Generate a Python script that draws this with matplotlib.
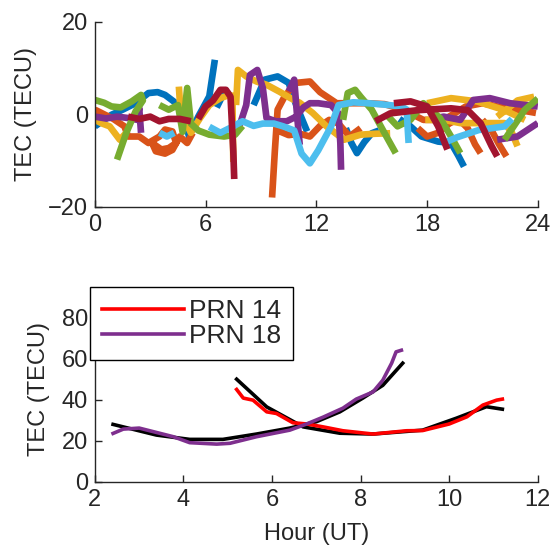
import numpy as np
import matplotlib.pyplot as plt

nan = np.nan

# ---- top panel: TEC residuals per satellite track (hour, TECU), NaN breaks tracks
blue_hr = [0, 0.5, 0.9, 1.5, 2.2, 2.9, 3.4, 3.8, 4.4, 4.9, 5.1, 5.6, 6.2, 6.5, nan,
           6.6, 6.9, 7.2, 7.6, nan,
           8.6, 9.2, 9.9, 10.5, 10.9, 11.5, nan,
           13.6, 13.9, 14.2, 14.6, 15.0, 15.4, nan,
           16.5, 17.1, 17.7, 18.6, 19.3, 19.7, 20.0]
blue_tec = [-2.6, -1.2, -0.1, 1.0, 2.4, 4.6, 4.8, 4.2, 2.4, -1.6, -4.8, -0.5, 3.9, 11.8, nan,
            1.5, 3.9, 4.6, 2.5, nan,
            2.0, 7.5, 8.2, 6.8, 2.1, -3.7, nan,
            -3.0, -6.2, -8.4, -6.0, -4.1, -3.5, nan,
            -1.0, -2.6, -4.8, -5.9, -6.2, -9.0, -11.3]

orange_hr = [0, 0.5, 1.0, 1.6, 1.8, 2.4, 2.9, 3.5, 3.8, 4.2, 4.4, 4.0, 3.6, 3.1, 3.3, 3.8, 4.2, 4.6, 5.0, 5.3, nan,
             9.6, 9.75, 9.9, 10.3, 10.9, 11.65, 12.2, 13.1, 13.9, 14.8, 15.7, 16.7, 17.8, 18.9,
             20.1, 21.0, 21.8, 22.9, 23.9, nan,
             9.9, 10.5, 11.1, 11.65, 12.2, 12.7, 13.2, 13.8, 14.4, nan,
             17.5, 18.0, 18.6, 19.2, 19.7, 20.2, 20.6, 20.9, nan,
             21.0, 21.5, 21.9, 22.3]
orange_tec = [1.0, 0.0, -1.0, -2.6, -4.8, -4.8, -6.2, -4.8, -3.3, -3.7, -6.2, -7.3, -7.6, -6.2, -8.0, -8.5, -7.7, -4.8, -6.2, -4.0, nan,
              -18.0, -8.0, 1.0, 4.0, 6.8, 7.1, 4.8, 2.4, 2.4, 2.4, 2.2, 1.0, -1.2, -1.2,
              1.7, 2.4, 1.7, 1.0, 0.3, nan,
              -3.5, -4.5, -4.2, -4.8, -2.5, -1.2, -2.0, -4.8, -3.0, nan,
              -3.0, -4.8, -4.0, -2.0, -1.0, -3.0, -6.5, -8.4, nan,
              -1.2, -3.5, -6.5, -9.1]

yellow_hr = [0, 0.4, 0.8, 1.35, 1.7, nan,
             4.55, 4.6, 4.9, 5.2, 5.7, 6.2, 6.8, 7.3, 7.45, 7.5, nan,
             7.65, 7.75, 8.2, 8.76, 9.3, 10.0, 10.6, 11.1, 11.8, 12.55, 13.5, 14.4, 15.2, 16.0, nan,
             18.0, 19.3, 20.7, 22.2, 23.3, nan,
             17.9, 18.9, 19.8, 21.0, 22.2, 22.6, 22.9, nan,
             21.8, 22.3, 22.9, 23.8]
yellow_tec = [-1.2, -2.0, -2.6, -5.5, -4.0, nan,
              6.0, 3.0, -1.5, -4.0, -0.8, 2.0, 3.5, 4.2, 4.0, -10.3, nan,
              2.0, 9.6, 8.2, 7.1, 6.4, 4.9, 3.5, 2.5, 0.3, -2.6, -5.5, -4.4, -4.2, -4.1, nan,
              2.4, 3.5, 2.8, 0.9, -1.2, nan,
              -1.2, -1.2, -1.9, -1.9, -1.9, -4.0, -6.9, nan,
              -0.5, 1.0, 3.0, 3.8]

purple_hr = [0, 0.6, 1.2, 1.8, 2.3, 2.4, 2.5, nan,
             7.85, 8.2, 8.4, 8.8, 9.1, 9.3, 9.8, 10.4, 10.9, 11.3, 11.65, 12.1, 12.8, 13.2, 13.3, 13.34, nan,
             10.5, 10.8, 10.95, 11.1, nan,
             18.5, 18.9, 19.8, 20.5, 21.4, 22.5, 24.0, nan,
             21.8, 22.9, 24.0]
purple_tec = [-0.5, -0.9, -0.5, -0.8, -1.2, 1.4, -4.0, nan,
              -2.3, 2.0, 8.5, 9.6, 5.7, -0.8, -1.5, -1.5, -0.5, 1.5, 2.4, 2.4, 2.0, 0.2, -6.2, -12.0, nan,
              5.0, 7.5, 0.0, -6.6, nan,
              -0.8, -0.5, -1.2, 3.1, 3.5, 2.4, 1.7, nan,
              -5.5, -4.8, -1.9]

green_hr = [0, 0.5, 0.9, 1.4, 2.0, 2.5, 2.6, 2.2, 1.7, 1.2, nan,
            3.5, 4.0, 4.5, 4.75, 5.0, 5.2, 5.6, 6.2, 7.0, 7.6, 8.0, nan,
            13.45, 13.7, 14.1, 14.4, 15.0, 15.7, 16.3, nan,
            15.9, 16.4, 17.1, 17.8, 18.7, 19.3, 19.8, nan,
            22.2, 23.3, 24.0]
green_tec = [3.1, 2.5, 1.7, 1.5, 2.8, 4.2, 3.0, 0.6, -4.0, -9.8, nan,
             2.0, 1.0, 2.0, -3.8, 5.7, -2.0, -3.5, -4.4, -4.8, -4.4, -2.5, nan,
             -1.2, 4.6, 5.3, 3.8, 1.0, -4.1, -8.4, nan,
             -0.5, -2.6, -1.2, 2.4, -0.8, -4.8, -8.4, nan,
             -5.5, 1.0, 3.4]

cyan_hr = [3.5, 3.9, 4.3, nan,
           6.2, 6.8, 7.3, 8.0, 8.6, 9.1, 9.7, 10.2, 10.8, 11.2, 11.65, 12.1, 12.8, 13.2, 14.0, 14.8,
           15.7, 16.6, 16.9, 16.95, 17.0, nan,
           18.9, 19.6, 20.8, 21.5, 22.2, 22.6]
cyan_tec = [-4.0, -4.8, -4.0, nan,
            -2.7, -4.0, -3.0, -1.5, -2.5, -2.0, -2.0, -2.6, -3.5, -8.5, -10.6, -7.8, -2.6, 2.0, 2.6, 2.4,
            2.1, 1.7, 1.0, -3.0, -6.2, nan,
            -6.2, -5.0, -3.4, -3.0, -2.6, -1.0]

crimson_hr = [1.8, 2.4, 3.0, 3.5, 4.0, 4.6, 5.2, nan,
              5.6, 6.0, 6.4, 6.8, 7.1, 7.35, 7.5, 7.55, nan,
              15.2, 16.0, 17.5, 19.3, 20.2, 20.9, 21.5, 21.8, nan,
              16.2, 17.1, 18.0, 18.6, 19.1]
crimson_tec = [-0.5, -1.0, -0.5, -1.5, -1.0, -1.0, -1.5, nan,
               -1.0, 1.7, 3.0, 5.3, 5.3, 3.8, -8.0, -14.0, nan,
               -1.5, 0.2, 0.9, 1.3, 0.9, -1.9, -6.9, -9.1, nan,
               2.4, 2.8, 1.7, -2.6, -7.6]

# ---- bottom panel: observed vs model TEC
prn14_hr = [5.2, 5.35, 5.57, 5.88, 6.1, 6.47, 6.78, 7.15, 7.6, 8.28, 9.04, 9.4, 10.0, 10.4, 10.76, 11.07, 11.2]
prn14_tec = [45.0, 40.8, 39.8, 34.1, 33.3, 28.8, 28.2, 26.8, 24.9, 23.3, 24.9, 25.0, 28.2, 31.7, 37.4, 39.8, 40.3]
model14_hr = [5.2, 5.88, 6.7, 7.53, 8.28, 9.4, 10.16, 10.84, 11.2]
model14_tec = [50.0, 36.5, 26.8, 23.7, 23.3, 25.2, 31.0, 36.6, 35.4]

prn18_hr = [2.41, 2.64, 3.0, 3.77, 4.14, 4.75, 5.05, 5.65, 6.4, 6.78, 7.15, 7.6, 7.9, 8.28, 8.5, 8.7, 8.8, 8.92]
prn18_tec = [23.6, 25.7, 26.2, 22.0, 19.1, 18.4, 18.8, 22.0, 25.2, 28.2, 31.5, 35.9, 40.3, 43.8, 49.5, 57.8, 63.3, 64.1]
model18_hr = [2.41, 3.39, 4.14, 4.89, 5.65, 6.4, 7.0, 7.53, 8.05, 8.5, 8.95]
model18_tec = [28.0, 22.8, 20.7, 20.7, 23.3, 26.2, 29.3, 34.1, 40.8, 47.0, 57.8]

plt.rcParams['font.family'] = ['Liberation Sans', 'DejaVu Sans']
plt.rcParams['font.size'] = 17
ink = '#262626'

fig = plt.figure(figsize=(5.55, 5.47), dpi=100)
ax1 = fig.add_axes([0.171, 0.622, 0.798, 0.338])
ax2 = fig.add_axes([0.171, 0.119, 0.798, 0.338])

tracks = [
    (blue_hr, blue_tec, '#0072BD'),
    (orange_hr, orange_tec, '#D95319'),
    (yellow_hr, yellow_tec, '#EDB120'),
    (purple_hr, purple_tec, '#7E2F8E'),
    (green_hr, green_tec, '#77AC30'),
    (cyan_hr, cyan_tec, '#4DBEEE'),
    (crimson_hr, crimson_tec, '#A2142F'),
]
for hr, tec, c in tracks:
    ax1.plot(hr, tec, color=c, lw=4.8, solid_capstyle='butt')
ax1.set_xlim(0, 24)
ax1.set_ylim(-20, 20)
ax1.set_xticks([0, 6, 12, 18, 24])
ax1.set_yticks([-20, 0, 20])
ax1.set_ylabel('TEC (TECU)', color=ink, labelpad=8)

ax2.plot(model14_hr, model14_tec, color='k', lw=2.6)
ax2.plot(model18_hr, model18_tec, color='k', lw=2.6)
l14, = ax2.plot(prn14_hr, prn14_tec, color='#FF0000', lw=2.6)
l18, = ax2.plot(prn18_hr, prn18_tec, color='#7E2F8E', lw=2.6)
ax2.set_xlim(2, 12)
ax2.set_ylim(0, 90)
ax2.set_xticks([2, 4, 6, 8, 10, 12])
ax2.set_yticks([0, 20, 40, 60, 80])
ax2.set_xlabel('Hour (UT)', color=ink, labelpad=9)
ax2.set_ylabel('TEC (TECU)', color=ink, labelpad=8)

for ax in (ax1, ax2):
    for s in ('top', 'right'):
        ax.spines[s].set_visible(False)
    for s in ('left', 'bottom'):
        ax.spines[s].set_color(ink)
        ax.spines[s].set_linewidth(1.0)
    ax.tick_params(direction='in', length=5, width=1.0, colors=ink, labelcolor=ink, pad=5)

leg = fig.legend([l14, l18], ['PRN 14', 'PRN 18'], loc='upper left',
                 bbox_to_anchor=(0.162, 0.475), frameon=True, fancybox=False,
                 fontsize=19, handlelength=3.1, borderpad=0.45, labelspacing=0.05,
                 handletextpad=0.2, borderaxespad=0, framealpha=1)
leg.get_frame().set_edgecolor('k')
leg.get_frame().set_linewidth(1.0)
for t in leg.get_texts():
    t.set_color(ink)

fig.savefig('out.png', dpi=100)
